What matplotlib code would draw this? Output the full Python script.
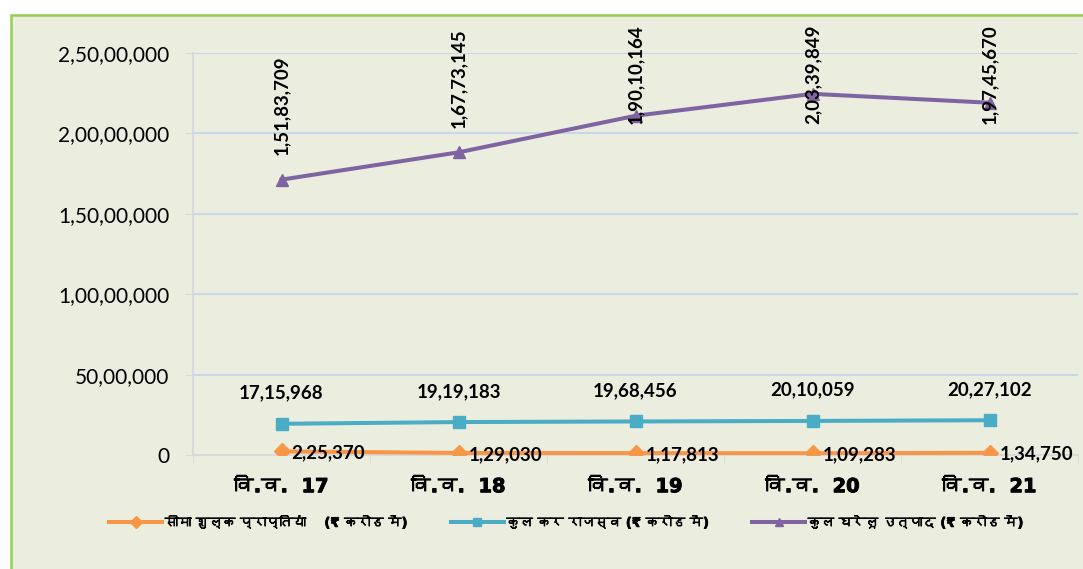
import matplotlib
matplotlib.use("Agg")
import matplotlib.pyplot as plt
from matplotlib import font_manager
from matplotlib.ft2font import FT2Font
from matplotlib.patches import Rectangle
import matplotlib.patheffects as pe
import numpy as np

# ---------------- data ----------------
categories = ["वि.व.  17", "वि.व.  18", "वि.व.  19", "वि.व.  20", "वि.व.  21"]
series_names = ["सीमा शुल्क प्राप्तियां    (₹ करोड में)",
                "कुल कर राजस्व (₹ करोड में)",
                "कुल घरेलू उत्पाद (₹ करोड में)"]
customs = [225370, 129030, 117813, 109283, 134750]
tax_revenue = [1715968, 1919183, 1968456, 2010059, 2027102]
gdp = [15183709, 16773145, 19010164, 20339849, 19745670]
y_ticks = [0, 5000000, 10000000, 15000000, 20000000, 25000000]
y_tick_labels = ["0", "50,00,000", "1,00,00,000", "1,50,00,000", "2,00,00,000", "2,50,00,000"]

# ---------------- fonts ----------------
def find_deva():
    seen = set()
    for f in font_manager.fontManager.ttflist:
        if f.name in seen:
            continue
        seen.add(f.name)
        try:
            cm = FT2Font(f.fname).get_charmap()
            if ord("व") in cm:
                return f.name
        except Exception:
            pass
    return None

deva = find_deva()
deva_family = ["DejaVu Sans", deva] if deva else ["DejaVu Sans"]
num_family = ["Lato", "DejaVu Sans"]
bolden = [pe.withStroke(linewidth=0.7, foreground="black")]

def fmt_in(v):
    s = str(int(v))
    if len(s) <= 3:
        return s
    head, tail = s[:-3], s[-3:]
    parts = []
    while len(head) > 2:
        parts.insert(0, head[-2:])
        head = head[:-2]
    if head:
        parts.insert(0, head)
    return ",".join(parts + [tail])

# ---------------- figure ----------------
W, H = 1083, 569
fig = plt.figure(figsize=(W / 100, H / 100), dpi=100)
fig.patch.set_facecolor("white")
fig.patches.append(Rectangle((11 / W, -0.05), 1.2, (H - 15) / H + 0.05,
                             transform=fig.transFigure, facecolor="#EBEEDF",
                             edgecolor="#92D050", linewidth=1.8, zorder=-5))

ax = fig.add_axes([193 / W, (H - 455) / H, (1078 - 193) / W, (455 - 53) / H])
ax.set_facecolor("none")
ax.set_zorder(2)

x = np.arange(len(categories))
s1 = np.array(customs, dtype=float)
s2 = s1 + np.array(tax_revenue, dtype=float)
s3 = s2 + np.array(gdp, dtype=float)

colors = ["#F79646", "#4BACC6", "#8064A2"]
l1, = ax.plot(x, s1, color=colors[0], lw=2.9, marker="D", ms=8, zorder=3, label=series_names[0])
l2, = ax.plot(x, s2, color=colors[1], lw=2.9, marker="s", ms=9, zorder=3, label=series_names[1])
l3, = ax.plot(x, s3, color=colors[2], lw=2.9, marker="^", ms=9, zorder=3, label=series_names[2])

ax.set_xlim(-0.5, len(categories) - 0.5)
ax.set_ylim(0, 25000000)
ax.set_yticks(y_ticks)
ax.set_yticklabels(y_tick_labels, fontsize=15, family=num_family)
ax.set_xticks(x)
ax.set_xticklabels(categories, fontsize=14, fontweight="bold", family=deva_family)
for t in ax.get_xticklabels():
    t.set_path_effects(bolden)
ax.set_xticks(np.arange(len(categories) + 1) - 0.5, minor=True)
ax.tick_params(axis="x", which="major", length=0, pad=16)
ax.tick_params(axis="x", which="minor", length=6, color="#D9D9D9")
ax.tick_params(axis="y", length=6, color="#D9D9D9", pad=11)

ax.grid(axis="y", color="#C9D7EA", lw=1.5, zorder=1)
for sp in ["top", "right"]:
    ax.spines[sp].set_visible(False)
ax.spines["left"].set_color("#D9D9D9")
ax.spines["bottom"].set_color("#D9D9D9")
ax.spines["left"].set_linewidth(1.5)
ax.spines["bottom"].set_linewidth(1.5)

# data labels
for xi, v, yv in zip(x, customs, s1):
    ax.annotate(fmt_in(v), (xi, yv), xytext=(7, -1), textcoords="offset points",
                ha="left", va="center", fontsize=13.5, fontweight="bold",
                family=num_family, zorder=4)
for xi, v, yv in zip(x, tax_revenue, s2):
    ax.annotate(fmt_in(v), (xi, yv), xytext=(0, 16), textcoords="offset points",
                ha="center", va="bottom", fontsize=13.5, fontweight="bold",
                family=num_family, zorder=4)
top_limit = 20580000
for xi, v, yv in zip(x, gdp, s3):
    ypos = min(yv + 1530000, top_limit)
    ax.text(xi, ypos, fmt_in(v), rotation=90, ha="center", va="bottom",
            fontsize=13.5, fontweight="bold", family=num_family, zorder=4)

leg = fig.legend(handles=[l1, l2, l3], loc="center", bbox_to_anchor=(567 / W, (H - 523) / H),
                 ncol=3, frameon=False, handlelength=4.0, columnspacing=3.2,
                 handletextpad=0.2, prop={"family": deva_family, "weight": "bold", "size": 9.5})
for h in leg.legend_handles:
    h.set_markersize(6)
for t in leg.get_texts():
    t.set_path_effects([pe.withStroke(linewidth=0.5, foreground="black")])

fig.savefig("out.png", dpi=100)
